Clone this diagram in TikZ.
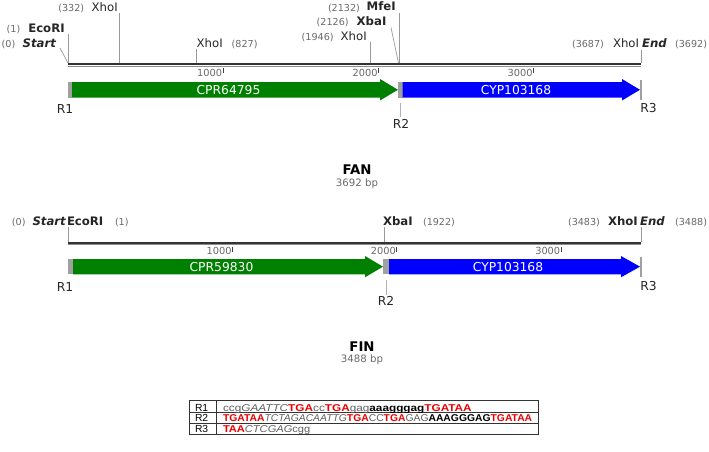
\documentclass[tikz,border=0pt]{standalone}
\usepackage{graphicx}
\usepackage{fontspec}
\setmainfont{DejaVu Sans}
\newfontfamily\tabf{Liberation Sans}
\newcommand\fsz[1]{\fontsize{#1pt}{#1pt}\selectfont}
\definecolor{fgreen}{RGB}{0,128,0}
\definecolor{fblue}{RGB}{0,0,255}
\definecolor{fgray}{RGB}{160,160,160}
\definecolor{numgray}{RGB}{105,105,105}
\definecolor{tred}{RGB}{235,0,0}
\definecolor{tgray}{RGB}{95,95,95}
\newcommand\seqred[1]{\textcolor{tred}{\bfseries #1}}
\newcommand\seqgray[1]{\textcolor{tgray}{#1}}
\newcommand\seqital[1]{\textcolor{tgray}{\itshape #1}}
\newcommand\seqbold[1]{\textcolor{black}{\bfseries #1}}
\begin{document}
\begin{tikzpicture}[x=1pt,y=-1pt,
  lbl/.style={inner sep=0pt, outer sep=0pt, anchor=base west, font=\fsz{11.7}, text=black!85},
  blbl/.style={lbl, font=\fsz{11.7}\bfseries},
  bilbl/.style={lbl, font=\fsz{11.7}\bfseries\itshape},
  num/.style={inner sep=0pt, outer sep=0pt, anchor=base west, font=\fsz{9.6}, text=numgray},
  numr/.style={num, anchor=base east},
  sitel/.style={draw=black!40, line width=0.7pt},
  tickm/.style={draw=black!75, line width=0.8pt},
  scl/.style={inner sep=0pt, outer sep=0pt, anchor=base east, font=\fsz{9.8}, text=numgray},
  rl/.style={inner sep=0pt, outer sep=0pt, anchor=base, font=\fsz{12.3}, text=black!85},
  feat/.style={inner sep=0pt, outer sep=0pt, anchor=base, font=\fsz{12.3}, text=white},
  bbdark/.style={draw=black!80, line width=2pt},
  bblight/.style={draw=black!45, line width=1.2pt},
  gbox/.style={fill=fgray},
  rbar/.style={draw=fgray, line width=2pt},
  ttl/.style={inner sep=0pt, outer sep=0pt, anchor=base, font=\fsz{13.3}\bfseries, text=black},
  bp/.style={inner sep=0pt, outer sep=0pt, anchor=base, font=\fsz{10.2}, text=numgray},
  tline/.style={draw=black!80, line width=0.7pt},
  tlab/.style={inner sep=0pt, outer sep=0pt, anchor=base west, font=\tabf\fsz{10.3}, text=black},
  trow/.style={inner sep=0pt, outer sep=0pt, anchor=base west, font=\tabf\fsz{9.9}}
]
\useasboundingbox (0,0) rectangle (709,452);

% ================= FAN =================
\coordinate (fbL) at (68,64.3);   \coordinate (fbR) at (641,64.3);
\coordinate (fbL2) at (68,66.3);  \coordinate (fbR2) at (641,66.3);
\draw[bbdark] (fbL) -- (fbR);
\draw[bblight] (fbL2) -- (fbR2);
\coordinate (ft1a) at (223,68); \coordinate (ft1b) at (223,73);
\coordinate (ft2a) at (378.5,68); \coordinate (ft2b) at (378.5,73);
\coordinate (ft3a) at (533.5,68); \coordinate (ft3b) at (533.5,73);
\draw[tickm] (ft1a) -- (ft1b); \draw[tickm] (ft2a) -- (ft2b); \draw[tickm] (ft3a) -- (ft3b);
\node[scl] (fs1) at (222,76) {1000};
\node[scl] (fs2) at (377.5,76) {2000};
\node[scl] (fs3) at (532.5,76) {3000};
\node[num] (fn0) at (1.7,47.5) {(0)};
\node[bilbl] (fst) at (22.7,47.5) {Start};
\node[num] (fn1) at (6.7,33) {(1)};
\node[blbl] (feco) at (28.3,33) {EcoRI};
\node[num] (fn332) at (58.3,11.7) {(332)};
\node[lbl] (fx1) at (91.7,11.7) {XhoI};
\node[lbl] (fx2) at (196.7,48) {XhoI};
\node[num] (fn827) at (231.7,48) {(827)};
\node[num] (fn1946) at (301.7,40.5) {(1946)};
\node[lbl] (fx3) at (340.7,40.5) {XhoI};
\node[num] (fn2126) at (316.7,26) {(2126)};
\node[blbl] (fxba) at (356.7,25.5) {XbaI};
\node[num] (fn2132) at (328,11.5) {(2132)};
\node[blbl] (fmfe) at (366.7,11) {MfeI};
\node[num] (fn3687) at (572,48) {(3687)};
\node[lbl] (fx4) at (613,48) {XhoI};
\node[bilbl] (fend) at (642,48) {End};
\node[numr] (fn3692) at (707,48) {(3692)};
\coordinate (fsA) at (60,48);   \coordinate (fsB) at (68,63);
\coordinate (feA) at (68,34);   \coordinate (feB) at (68,63);
\coordinate (fx1A) at (119.5,13); \coordinate (fx1B) at (119.5,63);
\coordinate (fx2A) at (196.5,49.5); \coordinate (fx2B) at (196.5,63);
\coordinate (fx3A) at (370,42); \coordinate (fx3B) at (370,63);
\coordinate (fxbA) at (391,27.5); \coordinate (fxbB) at (398.5,63);
\coordinate (fmfA) at (399.5,13); \coordinate (fmfB) at (399.5,63);
\coordinate (fenA) at (641,50); \coordinate (fenB) at (641,63);
\draw[sitel] (fsA) -- (fsB);
\draw[sitel] (feA) -- (feB);
\draw[sitel] (fx1A) -- (fx1B);
\draw[sitel] (fx2A) -- (fx2B);
\draw[sitel] (fx3A) -- (fx3B);
\draw[sitel] (fxbA) -- (fxbB);
\draw[sitel] (fmfA) -- (fmfB);
\draw[sitel] (fenA) -- (fenB);
\fill[gbox] (68,82) rectangle (72,97.5);
\fill[fgreen] (72,82) -- (380,82) -- (380,79) -- (398,89.75) -- (380,100.5) -- (380,97.5) -- (72,97.5) -- cycle;
\fill[gbox] (398,82) rectangle (402.7,97.5);
\fill[fblue] (402.7,82) -- (622,82) -- (622,79) -- (640,89.75) -- (622,100.5) -- (622,97.5) -- (402.7,97.5) -- cycle;
\coordinate (fr3a) at (641,79.5); \coordinate (fr3b) at (641,99.5);
\draw[rbar] (fr3a) -- (fr3b);
\node[feat] (fcpr) at (228.5,94.5) {CPR64795};
\node[feat] (fcyp) at (516,94.5) {CYP103168};
\node[rl] (fr1) at (65,113) {R1};
\node[rl] (fr2) at (401,128) {R2};
\node[rl] (fr3) at (648.5,112.5) {R3};
\coordinate (fr2a) at (400.5,103); \coordinate (fr2b) at (400.5,117);
\draw[sitel, draw=black!30] (fr2a) -- (fr2b);
\node[ttl] (fan) at (357,174) {FAN};
\node[bp] (fanbp) at (357,186) {3692 bp};

% ================= FIN =================
\coordinate (gbL) at (68,242.7);  \coordinate (gbR) at (641,242.7);
\coordinate (gbL2) at (68,244.6); \coordinate (gbR2) at (641,244.6);
\draw[bbdark] (gbL) -- (gbR);
\draw[bblight] (gbL2) -- (gbR2);
\coordinate (gt1a) at (232.5,246.5); \coordinate (gt1b) at (232.5,251.5);
\coordinate (gt2a) at (396.8,246.5); \coordinate (gt2b) at (396.8,251.5);
\coordinate (gt3a) at (561.2,246.5); \coordinate (gt3b) at (561.2,251.5);
\draw[tickm] (gt1a) -- (gt1b); \draw[tickm] (gt2a) -- (gt2b); \draw[tickm] (gt3a) -- (gt3b);
\node[scl] (gs1) at (231.5,254.5) {1000};
\node[scl] (gs2) at (395.8,254.5) {2000};
\node[scl] (gs3) at (560.2,254.5) {3000};
\node[num] (gn0) at (12,225) {(0)};
\node[bilbl] (gst) at (32.5,225) {Start};
\node[blbl] (geco) at (67,225) {EcoRI};
\node[num] (gn1) at (115,225) {(1)};
\node[blbl] (gxba) at (383,225) {XbaI};
\node[num] (gn1922) at (423,225) {(1922)};
\node[num] (gn3483) at (568,225) {(3483)};
\node[blbl] (gxho) at (608,225) {XhoI};
\node[bilbl] (gend) at (640,225) {End};
\node[numr] (gn3488) at (707,225) {(3488)};
\coordinate (geA) at (68,227); \coordinate (geB) at (68,241.5);
\coordinate (gxA) at (384,227); \coordinate (gxB) at (384,241.5);
\coordinate (gnA) at (641,227); \coordinate (gnB) at (641,241.5);
\draw[sitel] (geA) -- (geB);
\draw[sitel] (gxA) -- (gxB);
\draw[sitel] (gnA) -- (gnB);
\fill[gbox] (68,259) rectangle (73,274.3);
\fill[fgreen] (73,259) -- (365,259) -- (365,256) -- (383,266.65) -- (365,277.3) -- (365,274.3) -- (73,274.3) -- cycle;
\fill[gbox] (383,259) rectangle (389,274.3);
\fill[fblue] (389,259) -- (621,259) -- (621,256) -- (640,266.65) -- (621,277.3) -- (621,274.3) -- (389,274.3) -- cycle;
\coordinate (gr3a) at (641,256.5); \coordinate (gr3b) at (641,276.5);
\draw[rbar] (gr3a) -- (gr3b);
\node[feat] (gcpr) at (221.5,271.5) {CPR59830};
\node[feat] (gcyp) at (508,271.5) {CYP103168};
\node[rl] (gr1) at (65,291) {R1};
\node[rl] (gr2) at (386,305.5) {R2};
\node[rl] (gr3) at (648.5,290) {R3};
\coordinate (gr2a) at (386,280); \coordinate (gr2b) at (386,294.5);
\draw[sitel, draw=black!30] (gr2a) -- (gr2b);
\node[ttl] (fin) at (362,351) {FIN};
\node[bp] (finbp) at (362,362.5) {3488 bp};

% ================= table =================
\coordinate (tTL) at (189,400.5); \coordinate (tBR) at (538,434.3);
\coordinate (tr1L) at (189,412.8); \coordinate (tr1R) at (538,412.8);
\coordinate (tr2L) at (189,423.2); \coordinate (tr2R) at (538,423.2);
\coordinate (tcT) at (216,400.5); \coordinate (tcB) at (216,434.3);
\draw[tline] (tTL) rectangle (tBR);
\draw[tline] (tr1L) -- (tr1R);
\draw[tline] (tr2L) -- (tr2R);
\draw[tline] (tcT) -- (tcB);
\node[tlab] (tl1) at (195,411.3) {R1};
\node[tlab] (tl2) at (195,421.8) {R2};
\node[tlab] (tl3) at (195,432.3) {R3};
\node[trow] (trow1) at (223,411.3) {\scalebox{1.19}[1]{\seqgray{ccg}\seqital{GAATTC}\seqred{TGA}\seqgray{cc}\seqred{TGA}\seqgray{gag}\seqbold{aaagggag}\seqred{TGATAA}}};
\node[trow] (trow2) at (223,421.8) {\scalebox{1.045}[1]{\seqred{TGATAA}\seqital{TCTAGACAATTG}\seqred{TGA}\seqgray{CC}\seqred{TGA}\seqgray{GAG}\seqbold{AAAGGGAG}\seqred{TGATAA}}};
\node[trow] (trow3) at (223,432.3) {\scalebox{1.12}[1]{\seqred{TAA}\seqital{CTCGAG}\seqgray{cgg}}};
\end{tikzpicture}
\end{document}
